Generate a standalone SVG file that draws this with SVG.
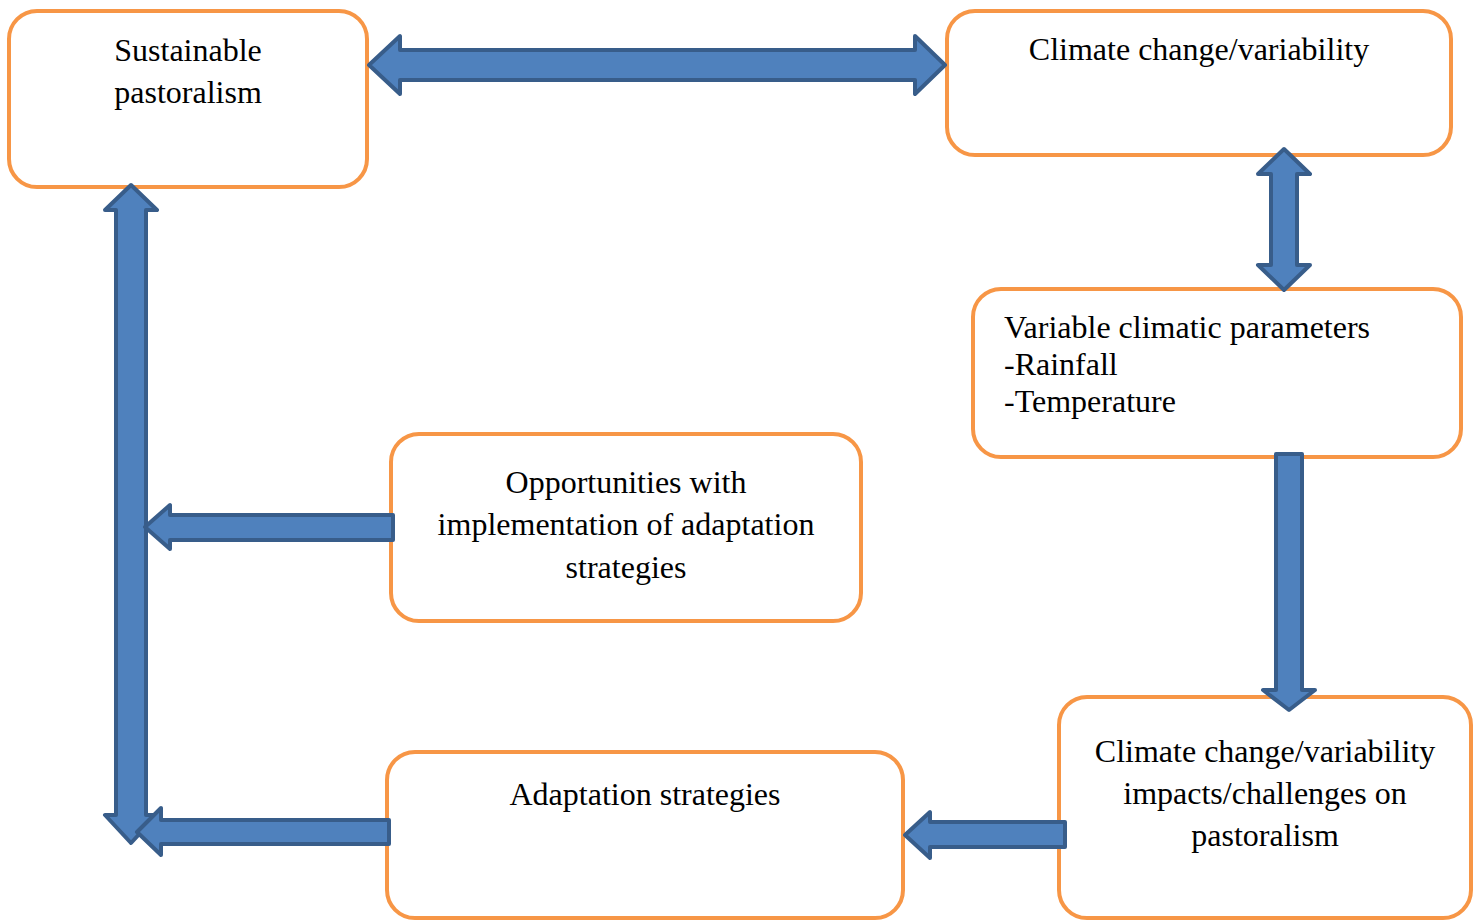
<svg xmlns="http://www.w3.org/2000/svg" width="1479" height="921" viewBox="0 0 1479 921">
<style>
.box{fill:#fff;stroke:#F79646;stroke-width:4}
.arr{fill:#4F81BD;stroke:#385D8A;stroke-width:4;stroke-linejoin:round}
text{font-family:"Liberation Serif","Times New Roman",serif;font-size:32px;fill:#000}
.c{text-anchor:middle}
</style>
<rect width="1479" height="921" fill="#fff"/>
<g id="n1"><rect class="box" x="9" y="11" width="358" height="176" rx="28"/><text class="c" x="188" y="61">Sustainable</text><text class="c" x="188" y="103">pastoralism</text></g>
<g id="n2"><rect class="box" x="947" y="11" width="504" height="144" rx="28"/><text class="c" x="1199" y="60">Climate change/variability</text></g>
<g id="n3"><rect class="box" x="973" y="289" width="488" height="168" rx="28"/><text x="1004" y="338">Variable climatic parameters</text><text x="1004" y="375">-Rainfall</text><text x="1004" y="412">-Temperature</text></g>
<g id="n4"><rect class="box" x="391" y="434" width="470" height="187" rx="28"/><text class="c" x="626" y="493">Opportunities with</text><text class="c" x="626" y="535">implementation of adaptation</text><text class="c" x="626" y="578">strategies</text></g>
<g id="n5"><rect class="box" x="387" y="752" width="516" height="166" rx="28"/><text class="c" x="645" y="805">Adaptation strategies</text></g>
<g id="n6"><rect class="box" x="1059" y="697" width="412" height="221" rx="28"/><text class="c" x="1265" y="762">Climate change/variability</text><text class="c" x="1265" y="804">impacts/challenges on</text><text class="c" x="1265" y="846">pastoralism</text></g>
<g id="connectors">
<path class="arr" d="M369,65 L400,36 L400,50 L915,50 L915,36 L945,65 L915,94 L915,80 L400,80 L400,94 Z"/>
<path class="arr" d="M1284,149 L1310,174 L1297,174 L1297,265 L1310,265 L1284,290 L1258,265 L1271,265 L1271,174 L1258,174 Z"/>
<path class="arr" d="M1276,454 L1302,454 L1302,690 L1315,690 L1289,710 L1263,690 L1276,690 Z"/>
<path class="arr" d="M131,185 L157,210 L146,210 L146,815 L157,815 L131,843 L105,815 L116,815 L116,210 L105,210 Z"/>
<path class="arr" d="M393,515 L393,540 L170,540 L170,549 L145,527 L170,505 L170,515 Z"/>
<path class="arr" d="M389,820 L389,844 L161,844 L161,855 L137,832 L161,808 L161,820 Z"/>
<path class="arr" d="M1065,822 L1065,847 L930,847 L930,858 L905,835 L930,812 L930,822 Z"/>
</g>
</svg>
